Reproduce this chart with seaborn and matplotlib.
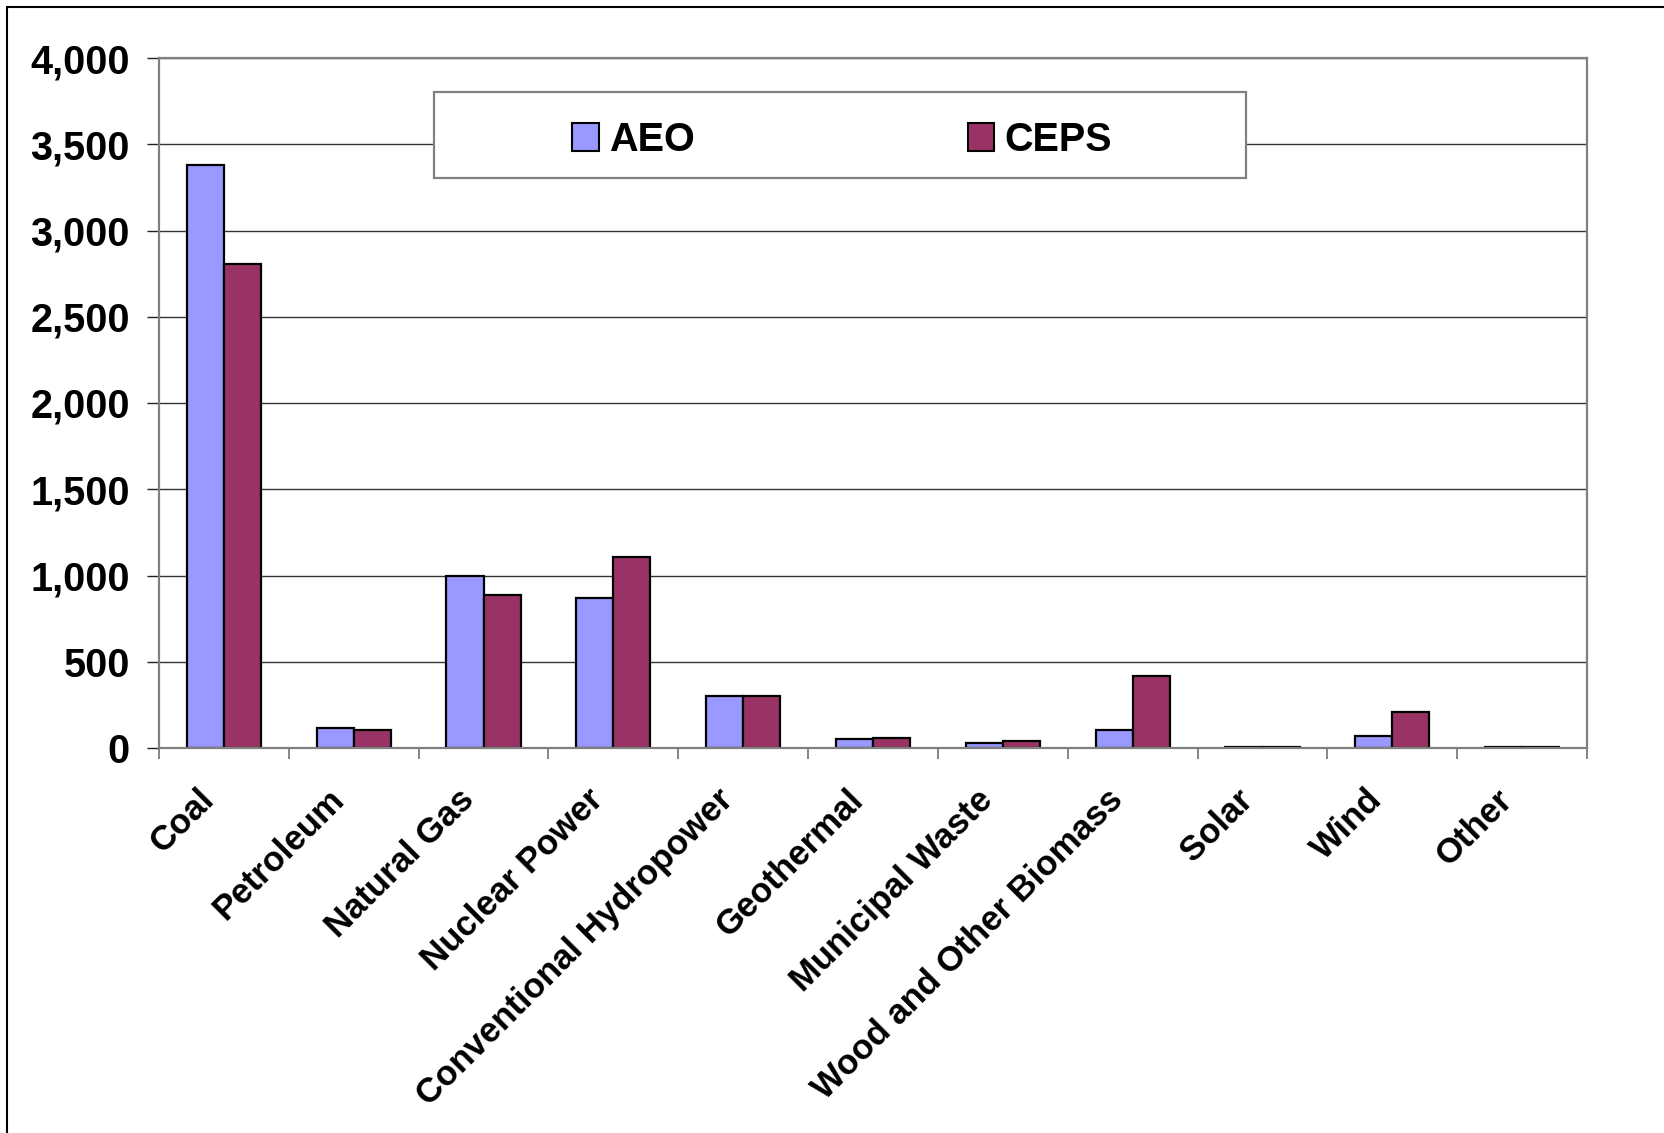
import numpy as np
import pandas as pd
import matplotlib
matplotlib.use("Agg")
import matplotlib.pyplot as plt
from matplotlib.patches import Rectangle, Patch
from matplotlib.lines import Line2D
from matplotlib.ticker import FuncFormatter, FixedLocator
from matplotlib.transforms import ScaledTranslation
import seaborn as sns

# Electricity generation by source, two projections
categories = ["Coal", "Petroleum", "Natural Gas", "Nuclear Power",
              "Conventional Hydropower", "Geothermal", "Municipal Waste",
              "Wood and Other Biomass", "Solar", "Wind", "Other"]
aeo = [3380, 114, 995, 867, 303, 52, 31, 104, 3, 68, 7]
ceps = [2805, 106, 886, 1107, 300, 60, 39, 415, 3, 211, 7]
series = ["AEO", "CEPS"]
colors = ["#9999FF", "#993366"]
y_ticks = [0, 500, 1000, 1500, 2000, 2500, 3000, 3500, 4000]

df = pd.DataFrame({
    "category": categories * 2,
    "source": [series[0]] * len(categories) + [series[1]] * len(categories),
    "value": aeo + ceps,
})

sns.set_style("white")
plt.rcParams["font.family"] = ["Liberation Sans", "DejaVu Sans"]
plt.rcParams["font.weight"] = "bold"
plt.rcParams["text.color"] = "black"
plt.rcParams["xtick.color"] = "black"
plt.rcParams["ytick.color"] = "black"
plt.rcParams["xtick.labelcolor"] = "black"
plt.rcParams["ytick.labelcolor"] = "black"

fig = plt.figure(figsize=(16.64, 11.33), dpi=100)
ax = fig.add_axes([159 / 1664, 1 - 748 / 1133, (1587 - 159) / 1664, (748 - 58) / 1133])

sns.barplot(data=df, x="category", y="value", hue="source",
            order=categories, hue_order=series, palette=colors,
            width=0.5714, gap=0, saturation=1, edgecolor="black",
            linewidth=1.6, errorbar=None, legend=False, ax=ax)

ax.set_xlim(-0.5, len(categories) - 0.5)
ax.set_ylim(0, 4000)
ax.set_xlabel("")
ax.set_ylabel("")

# gridlines and frame
ax.set_axisbelow(True)
ax.yaxis.grid(True, color="#333333", linewidth=1.0)
ax.xaxis.grid(False)
for side in ["top", "right", "bottom", "left"]:
    ax.spines[side].set_visible(True)
    ax.spines[side].set_color("#808080")
    ax.spines[side].set_linewidth(1.6)

# y axis
ax.yaxis.set_major_locator(FixedLocator(y_ticks))
ax.yaxis.set_major_formatter(FuncFormatter(lambda v, p: f"{v:,.0f}"))
ax.tick_params(axis="y", which="major", left=True, length=8.6, width=1.0,
               color="#222222", pad=12.5, labelsize=28.5, labelcolor="black")

# x axis: labels at centres, tick marks at category boundaries
ax.set_xticks(range(len(categories)))
ax.set_xticklabels(categories, rotation=45, ha="right", va="center",
                   rotation_mode="anchor", fontsize=25, fontweight="bold",
                   color="black")
ax.tick_params(axis="x", which="major", bottom=True, length=0, pad=33.5)
ax.xaxis.set_minor_locator(FixedLocator(np.arange(-0.5, len(categories), 1.0)))
ax.tick_params(axis="x", which="minor", bottom=True, length=8, width=1.2,
               color="#707070")
shift = ScaledTranslation(-0.15, 0, fig.dpi_scale_trans)
for lbl in ax.get_xticklabels():
    lbl.set_transform(lbl.get_transform() + shift)
for lbl in ax.get_yticklabels():
    lbl.set_fontweight("bold")

# legend box
fig.add_artist(Rectangle((434 / 1664, 1 - 178 / 1133), (1246 - 434) / 1664,
                         (178 - 92) / 1133, transform=fig.transFigure,
                         facecolor="white", edgecolor="#808080", linewidth=1.6,
                         zorder=2))
handles = [Patch(facecolor=c, edgecolor="black", linewidth=1.5) for c in colors]
leg = fig.legend(handles, series, loc="center",
                 bbox_to_anchor=(842 / 1664, 1 - 140 / 1133),
                 ncol=2, frameon=False, handlelength=0.66, handleheight=0.7,
                 handletextpad=0.26, columnspacing=6.9,
                 prop={"weight": "bold", "size": 28.5})
for t in leg.get_texts():
    t.set_color("black")

# outer border (left and top edges)
fig.add_artist(Line2D([6.5 / 1664, 6.5 / 1664], [0, 1 - 6.5 / 1133],
                      transform=fig.transFigure, color="black", linewidth=1.5))
fig.add_artist(Line2D([6.5 / 1664, 1], [1 - 6.5 / 1133, 1 - 6.5 / 1133],
                      transform=fig.transFigure, color="black", linewidth=1.5))

fig.savefig("out.png", dpi=100, facecolor="white")
